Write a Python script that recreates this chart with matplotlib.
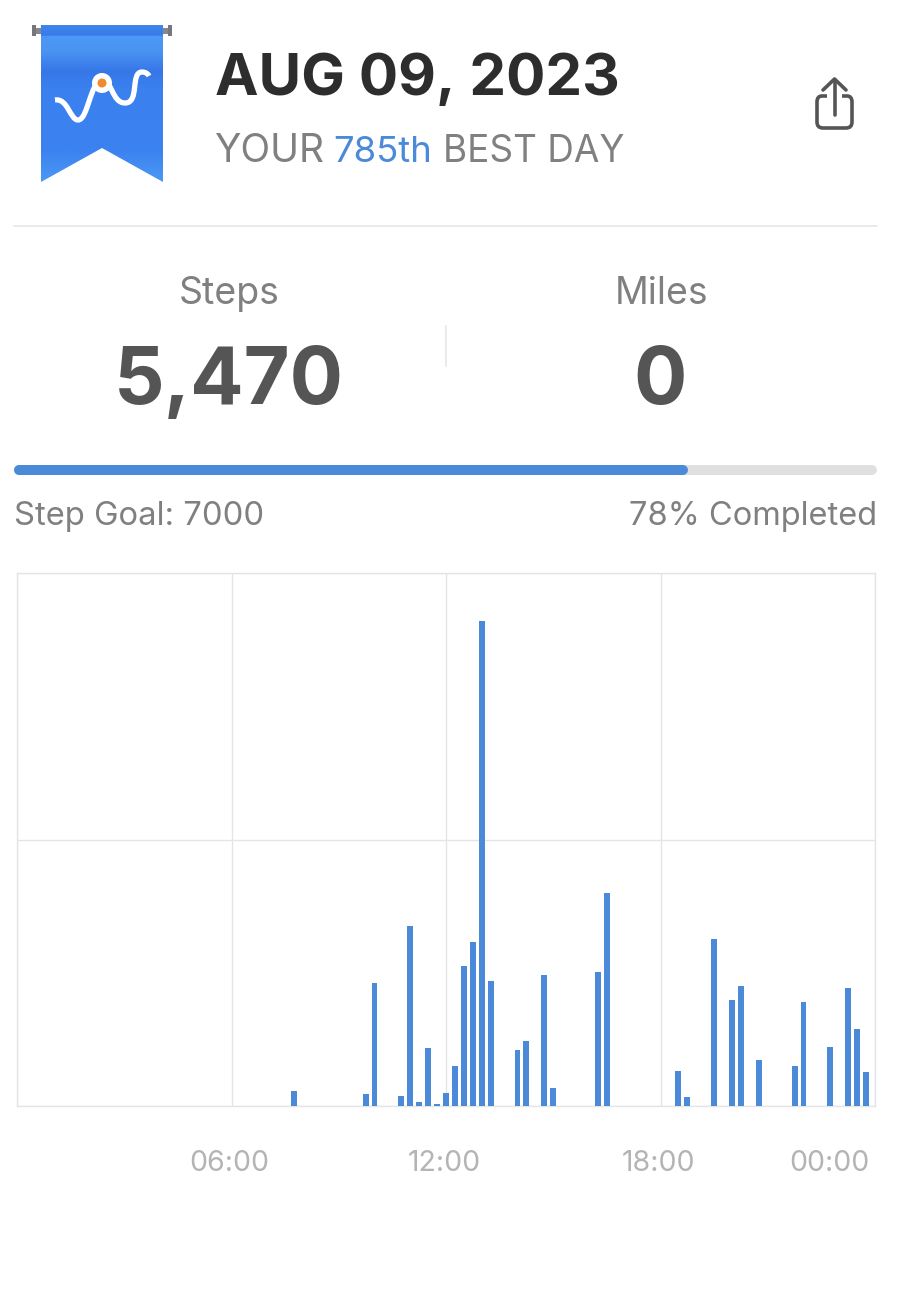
import numpy as np
import matplotlib
matplotlib.use('Agg')
import matplotlib.pyplot as plt
from matplotlib.path import Path
from matplotlib.patches import PathPatch, Circle, Rectangle, Polygon

plt.rcParams['font.family'] = ['Inter', 'DejaVu Sans']

# data: quarter hour of the day and steps in that quarter
quarter_bins = [31, 39, 40, 43, 44, 45, 46, 47, 48, 49, 50, 51, 52, 53, 56, 57, 59, 60,
                65, 66, 74, 75, 78, 80, 81, 83, 87, 88, 91, 93, 94, 95]
steps = [29, 22, 230, 19, 337, 8, 108, 3, 24, 75, 263, 308, 910, 235, 105, 122, 246, 33,
         252, 399, 65, 16, 313, 198, 226, 86, 75, 196, 110, 222, 144, 63]
grid_hours = [0, 6, 12, 18, 24]
tick_hours = [5.95, 11.95, 17.95, 22.72]
tick_labels = ['06:00', '12:00', '18:00', '00:00']
step_total = 5470
step_goal = 7000

BLUE = '#4a8ad8'
GREY = '#808080'
DARK = '#555555'
LINE = '#e4e4e4'

W, H = 900, 1289
fig = plt.figure(figsize=(W / 100, H / 100), dpi=100, facecolor='white')

# overlay in pixel coordinates for the header and the icons
ui = fig.add_axes([0, 0, 1, 1])
ui.set_xlim(0, W)
ui.set_ylim(H, 0)
ui.axis('off')

# ribbon with vertical gradient
gradient = matplotlib.colors.LinearSegmentedColormap.from_list('ribbon', [
    (0.0, '#3f86ee'), (0.06, '#3a7aea'), (0.07, '#4c98f5'), (0.16, '#4a94f2'),
    (0.29, '#3777e8'), (0.40, '#3b80ef'), (0.80, '#3b82f0'), (1.0, '#4c98f4')])
ribbon = Polygon([(41, 25), (163, 25), (163, 182), (102, 148), (41, 182)], closed=True,
                 fc='none', ec='none', transform=ui.transData)
ui.add_patch(ribbon)
img = ui.imshow(np.linspace(0, 1, 200).reshape(-1, 1), cmap=gradient, aspect='auto',
                extent=(41, 163, 182, 25), zorder=2)
img.set_clip_path(ribbon)
ui.set_xlim(0, W)
ui.set_ylim(H, 0)
ui.add_patch(Rectangle((35, 28), 6, 6, fc='#85878a', ec='none', zorder=2))
ui.add_patch(Rectangle((32, 25), 4, 11, fc='#75777a', ec='none', zorder=2))
ui.add_patch(Rectangle((163, 28), 6, 6, fc='#85878a', ec='none', zorder=2))
ui.add_patch(Rectangle((168, 25), 4, 11, fc='#75777a', ec='none', zorder=2))

curve = Path([(55, 100), (68, 98), (70, 120), (78, 120), (88, 120), (90, 82), (102, 80),
              (112, 80), (112, 103), (125, 103), (140, 103), (130, 72), (142, 72), (146, 72), (148, 74), (149, 76)],
             [Path.MOVETO] + [Path.CURVE4] * 15)
ui.add_patch(PathPatch(curve, fc='none', ec='white', lw=3.8, capstyle='butt', zorder=3))
ui.add_patch(Circle((102, 83), 10, fc='white', ec='none', zorder=4))
ui.add_patch(Circle((102, 83), 4.5, fc='#f08a2c', ec='none', zorder=5))

# share icon
box = Path([(827, 96), (822, 96), (817, 96), (817, 102), (817, 122), (817, 128), (823, 128),
            (846, 128), (852, 128), (852, 122), (852, 102), (852, 96), (847, 96), (842, 96)],
           [Path.MOVETO, Path.LINETO, Path.CURVE3, Path.CURVE3, Path.LINETO, Path.CURVE3, Path.CURVE3,
            Path.LINETO, Path.CURVE3, Path.CURVE3, Path.LINETO, Path.CURVE3, Path.CURVE3, Path.LINETO])
ui.add_patch(PathPatch(box, fc='none', ec='#555555', lw=2.6))
ui.plot([834.5, 834.5], [80, 115], color='#555555', lw=2.6, solid_capstyle='round')
ui.plot([823, 834.5, 846], [90, 79, 90], color='#555555', lw=2.6, solid_capstyle='round')

# header text
ui.text(215, 80, 'AUG 09, 2023', fontsize=42, fontweight='bold', color='#2d2d2d', va='center', ha='left')
ui.text(214, 152, 'YOUR', fontsize=28, color=GREY, va='center', ha='left')
ui.text(333, 152, '785th', fontsize=26.3, color=BLUE, va='center', ha='left')
ui.text(443, 152, 'BEST DAY', fontsize=26.6, color=GREY, va='center', ha='left')
ui.plot([14, 877], [226, 226], color=LINE, lw=1.1)

ui.text(229, 294, 'Steps', fontsize=27, color=GREY, ha='center', va='center')
ui.text(662, 294, 'Miles', fontsize=27, color=GREY, ha='center', va='center')
ui.text(229, 383, f'{step_total:,}', fontsize=57, fontweight='bold', color=DARK, ha='center', va='center')
ui.text(660, 383, '0', fontsize=57, fontweight='bold', color=DARK, ha='center', va='center')
ui.plot([446, 446], [326, 366], color=LINE, lw=1.1)

# progress bar
bar_l, bar_r = 14, 877
done = bar_l + (bar_r - bar_l) * step_total / step_goal
ui.plot([bar_l + 5, bar_r - 5], [470, 470], color='#e0e0e0', lw=7.2, solid_capstyle='round')
ui.plot([bar_l + 5, done - 5], [470, 470], color=BLUE, lw=7.2, solid_capstyle='round')
ui.text(14, 516, f'Step Goal: {step_goal}', fontsize=23.6, color=GREY, ha='left', va='center')
ui.text(877, 516, f'{step_total / step_goal:.0%} Completed', fontsize=23.5, color=GREY, ha='right', va='center')

# bar chart, one bar per quarter hour
ax = fig.add_axes([17 / W, 1 - 1106 / H, (875 - 17) / W, (1106 - 573) / H])
ax.patch.set_alpha(0)
hours = np.array(quarter_bins) * 0.25
ax.bar(hours, steps, width=0.165, color=BLUE, zorder=3)
ax.set_xlim(0, 24)
ax.set_ylim(0, 1000)
ax.set_xticks(grid_hours)
ax.set_xticklabels([])
ax.set_yticks([0, 500, 1000])
ax.set_yticklabels([])
ax.grid(True, color=LINE, lw=0.95, zorder=0)
ax.tick_params(which='major', length=0)
ax.set_xticks(tick_hours, minor=True)
ax.set_xticklabels(tick_labels, minor=True, fontsize=20.5, color='#b4b4b4')
ax.tick_params(which='minor', length=0, pad=31.5)
for s in ax.spines.values():
    s.set_color(LINE)
    s.set_linewidth(0.95)

fig.savefig('out.png', dpi=100)
